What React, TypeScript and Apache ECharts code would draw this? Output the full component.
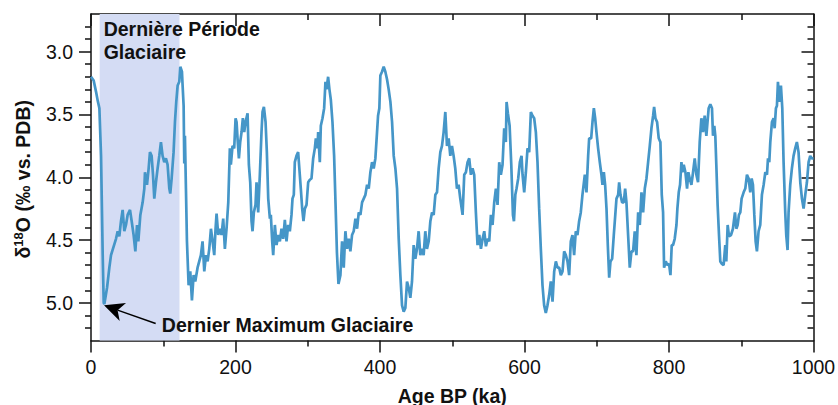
import React, { useEffect, useRef } from "react";
import * as echarts from "echarts";

// Age (ka BP) and benthic δ18O (‰ vs. PDB)
const ageKa = [
  0, 3.7, 7, 9.3, 11.6, 13.9, 16.2, 17.6, 18.5, 22.2, 25.4, 27.7, 31.4, 34.6, 36.9, 39.2, 41.5, 43.8, 46.1, 48.4,
  50.7, 54, 56.3, 59, 61.4, 63.7, 65.5, 68.3, 71.5, 73.8, 74.7, 77.5, 79.8, 81.6, 83.9, 85.8, 87.6, 89.9, 92.2, 94.5,
  96.8, 99.1, 101.4, 103.7, 106, 108.4, 109.7, 111.6, 114.3, 116.2, 118, 119.9, 122.2, 123.6, 125.9, 126.8, 128.2, 129.1, 130, 131.4,
  132.8, 135.1, 137.4, 139.7, 142, 144.3, 147.5, 149.8, 152.1, 154.4, 156.8, 159.1, 161.4, 163.7, 166, 168.3, 170.6, 172.4, 173.8, 176.1,
  178.4, 180.7, 183, 185.3, 187.6, 190, 192.2, 193.6, 195.9, 198.2, 200.1, 201.5, 202.8, 204.7, 206.5, 208.4, 210.2, 212.1, 213.9, 216.7,
  218.5, 220.4, 222.2, 223.6, 225.4, 227.7, 229.1, 231.4, 233.7, 236, 237.4, 239.3, 241.6, 243.4, 245.3, 247.6, 248.9, 250.8, 252.2, 254.5,
  256.8, 259.1, 261.4, 263.7, 266, 268.3, 270.6, 272.9, 275.2, 277.5, 278.9, 280.7, 282.1, 284.4, 286.7, 289, 290.4, 292.3, 294.1, 296,
  298.3, 300.6, 302.9, 305.2, 307.5, 309.8, 311.2, 313.5, 314.4, 316.7, 318.1, 320.4, 322.7, 324.5, 325.9, 328.2, 330, 331.9, 334.2, 336.5,
  338.4, 340.4, 342.5, 345.2, 347.5, 349.8, 352.1, 354.4, 356.7, 359, 361.3, 363.6, 366, 368.3, 370.6, 372.9, 375.2, 377.5, 379.8, 382.1,
  384.4, 386.7, 389, 391.3, 393.6, 395.9, 397.3, 399.1, 400.5, 402.8, 405.1, 407.4, 409.7, 412, 414.4, 416.7, 419, 421.3, 423.6, 425.9,
  428.2, 430.5, 432.8, 435.1, 437.4, 439.7, 442, 444.3, 446.6, 448.9, 451.2, 453.5, 455.8, 458.1, 460.4, 462.7, 465, 467.4, 469.7, 472,
  474.3, 476.6, 478.9, 481.2, 483.5, 485.8, 488.1, 490.4, 492.7, 495, 497.3, 499.6, 501.9, 504.2, 506.5, 508.8, 511.1, 514.3, 516.6, 518.9,
  521.2, 523.5, 525.8, 528.1, 530.4, 532.7, 535, 537.4, 539.7, 542, 544.3, 546.6, 548.9, 551.2, 553.5, 555.8, 558.1, 560.4, 562.7, 565,
  567.3, 569.6, 571.9, 574.2, 575.2, 577, 579.4, 581.7, 584, 585.4, 587.3, 589, 591.3, 593.6, 595.9, 597.3, 599.6, 601.9, 604.2, 606.5,
  608.8, 611.1, 613.4, 615.7, 618, 620.3, 622.6, 624.9, 627.2, 629.5, 631.8, 634.1, 636.4, 638.8, 641.1, 643.4, 645.7, 648, 650.3, 652.6,
  654.9, 657.2, 659.5, 661.8, 664.1, 666.4, 668.7, 671, 673.3, 675.6, 677.9, 680.2, 683.5, 685.8, 688.1, 689.5, 692.3, 694.1, 696, 697.8,
  699.6, 701.9, 704.2, 706.5, 707.9, 709.8, 711.6, 713.5, 715.3, 717.2, 719, 721.3, 723.6, 725.9, 727.3, 729.6, 731, 732.8, 735.1, 737.4,
  739.3, 741.1, 743.4, 745.7, 748, 750.3, 752.6, 754.9, 757.3, 759.6, 761.9, 764.2, 766.5, 768.8, 771.1, 773.4, 775.7, 778, 779.4, 781.2,
  783.5, 785.8, 788.1, 790, 791.8, 793.2, 795.5, 797.8, 800.1, 802, 803.8, 805.6, 807.9, 810.3, 811.6, 813.5, 815.3, 817.2, 818.5, 820.4,
  822.7, 825, 826.8, 828.7, 831, 833.3, 835.6, 837.9, 840.2, 842.5, 844.8, 847.1, 849.4, 851.7, 854.9, 857.2, 859.5, 860.9, 862.7, 864.1,
  865.5, 867.3, 869.2, 871, 873.3, 875.6, 877.9, 879.3, 881.2, 883, 885.8, 888.5, 891.3, 893.2, 895, 896.8, 898.7, 900.5, 903.3, 905.6,
  907.9, 910.2, 912.5, 914.4, 916.2, 918.1, 919.9, 921.7, 924, 926.3, 928.6, 931, 933.3, 935.6, 937, 938.8, 940.2, 942.5, 944.8, 946.2,
  948, 949.4, 950.8, 952.6, 954.9, 956.8, 958.6, 960.9, 962.3, 964.1, 965.5, 967.8, 970.1, 972.4, 974.7, 977, 979.3, 981.7, 984, 986.3,
  988.6, 990.9, 993.2, 995.5, 997.8, 1000,
];

const d18O = [
  3.2, 3.23, 3.32, 3.39, 3.45, 3.83, 4.62, 5.0, 5.01, 4.88, 4.72, 4.62, 4.55, 4.49, 4.43, 4.47, 4.35, 4.26, 4.43, 4.38,
  4.3, 4.26, 4.35, 4.46, 4.59, 4.38, 4.51, 4.3, 4.2, 4.09, 3.96, 4.06, 3.93, 3.8, 3.83, 3.98, 4.17, 4.04, 3.93, 3.83,
  3.72, 3.83, 3.88, 3.85, 3.9, 4.09, 4.13, 4.01, 3.8, 3.56, 3.4, 3.27, 3.24, 3.12, 3.16, 3.27, 3.43, 3.89, 3.67, 4.09,
  4.51, 4.86, 4.75, 4.98, 4.78, 4.83, 4.72, 4.67, 4.62, 4.51, 4.75, 4.62, 4.67, 4.57, 4.41, 4.51, 4.62, 4.41, 4.29, 4.46,
  4.41, 4.46, 4.33, 4.57, 4.41, 4.2, 3.77, 3.9, 3.75, 3.77, 3.53, 3.56, 3.69, 3.85, 3.72, 3.64, 3.53, 3.64, 3.56, 3.49,
  3.9, 4.04, 4.35, 4.43, 4.28, 4.22, 4.04, 4.28, 3.98, 3.64, 3.48, 3.44, 3.56, 3.8, 4.17, 4.33, 4.3, 4.51, 4.62, 4.38,
  4.54, 4.46, 4.51, 4.41, 4.49, 4.34, 4.51, 4.38, 4.43, 4.3, 4.17, 4.14, 3.88, 3.83, 3.8, 3.98, 4.09, 4.25, 4.35, 4.25,
  4.22, 4.04, 4.02, 4.01, 3.85, 3.77, 3.69, 3.77, 3.64, 3.88, 3.59, 3.53, 3.45, 3.24, 3.3, 3.2, 3.3, 3.38, 3.56, 3.83,
  4.2, 4.6, 4.85, 4.78, 4.51, 4.72, 4.43, 4.57, 4.49, 4.59, 4.46, 4.43, 4.33, 4.41, 4.28, 4.3, 4.2, 4.17, 4.14, 4.06,
  4.09, 3.96, 3.88, 3.93, 3.85, 3.64, 3.51, 3.45, 3.19, 3.16, 3.12, 3.16, 3.22, 3.3, 3.4, 3.56, 3.83, 3.93, 4.09, 4.49,
  4.78, 5.02, 5.07, 5.04, 4.83, 4.88, 4.96, 4.83, 4.54, 4.65, 4.57, 4.43, 4.62, 4.57, 4.62, 4.43, 4.57, 4.51, 4.35, 4.28,
  4.3, 4.14, 4.12, 3.93, 3.8, 3.75, 3.64, 3.48, 3.75, 3.69, 3.83, 3.75, 3.83, 3.93, 4.09, 4.06, 4.17, 4.3, 3.98, 3.96,
  3.88, 3.85, 3.98, 3.93, 3.98, 4.28, 4.54, 4.46, 4.57, 4.49, 4.43, 4.55, 4.49, 4.51, 4.3, 4.38, 4.2, 4.09, 4.22, 3.88,
  3.98, 3.9, 3.61, 3.72, 3.4, 3.49, 3.59, 3.9, 4.3, 4.35, 4.14, 4.09, 4.01, 3.88, 3.83, 3.98, 4.12, 3.96, 3.77, 3.8,
  3.48, 3.51, 3.53, 3.64, 3.88, 4.25, 4.57, 4.86, 5.02, 5.08, 5.02, 4.94, 4.83, 4.99, 4.75, 4.67, 4.72, 4.72, 4.78, 4.75,
  4.59, 4.62, 4.67, 4.78, 4.51, 4.46, 4.62, 4.43, 4.46, 4.35, 4.28, 4.14, 3.98, 4.12, 3.83, 3.69, 3.69, 3.56, 3.45, 3.53,
  3.64, 3.77, 3.88, 3.98, 4.06, 3.96, 4.06, 4.25, 4.54, 4.8, 4.67, 4.65, 4.46, 4.28, 4.17, 4.14, 4.04, 4.14, 4.2, 4.2,
  4.09, 4.2, 4.46, 4.72, 4.59, 4.59, 4.43, 4.62, 4.28, 4.38, 4.12, 4.28, 4.09, 4.01, 3.88, 3.75, 3.61, 3.51, 3.44, 3.53,
  3.56, 3.69, 3.72, 4.14, 4.28, 4.72, 4.67, 4.7, 4.69, 4.78, 4.54, 4.54, 4.49, 4.38, 4.25, 4.12, 4.06, 3.88, 3.96, 3.9,
  3.96, 4.09, 3.96, 4.01, 4.06, 3.96, 3.85, 3.98, 4.04, 3.72, 3.53, 3.64, 3.51, 3.67, 3.45, 3.42, 3.45, 3.67, 3.59, 3.67,
  3.9, 4.22, 4.46, 4.67, 4.69, 4.7, 4.54, 4.67, 4.38, 4.47, 4.46, 4.41, 4.28, 4.41, 4.38, 4.3, 4.28, 4.17, 4.12, 4.09,
  3.98, 4.01, 4.12, 4.01, 4.06, 4.3, 4.51, 4.59, 4.43, 4.38, 4.14, 4.06, 3.96, 3.98, 3.85, 3.88, 3.72, 3.56, 3.53, 3.61,
  3.45, 3.43, 3.24, 3.4, 3.27, 3.45, 3.88, 4.28, 4.46, 4.58, 4.28, 4.06, 3.93, 3.83, 3.77, 3.72, 3.8, 4.04, 4.17, 4.25,
  4.14, 4.04, 3.88, 3.83, 3.85, 3.85,
];

// Axis ticks / labels
const xTickLabels = [0, 200, 400, 600, 800, 1000];
const yTickLabels = [3.0, 3.5, 4.0, 4.5, 5.0];
const yMinorTicks = [2.8, 2.9, 3.1, 3.2, 3.3, 3.4, 3.6, 3.7, 3.8, 3.9, 4.1, 4.2, 4.3, 4.4, 4.6, 4.7, 4.8, 4.9, 5.1, 5.2];

// Shaded last glacial period (ka)
const glacialPeriod = [12, 122.5];
const glacialLabel = "Dernière Période\nGlaciaire";
// Last Glacial Maximum annotation (data coordinates)
const lgmLabel = "Dernier Maximum Glaciaire";
const lgmTip = [18, 5.02];
const lgmTail = [89.5, 5.165];
const lgmTextAnchor = [98, 5.175];

const FONT = "'Liberation Sans', Arial, Helvetica, sans-serif";
const INK = "#111111";
const FS = 19.5;

export default function App() {
  const ref = useRef<HTMLDivElement>(null);

  useEffect(() => {
    if (!ref.current) return;
    const chart = echarts.init(ref.current, undefined, { renderer: "svg" });
    const axisLine = { show: true, lineStyle: { color: INK, width: 1.5 } };
    const tickStyle = { color: INK, width: 1.5 };

    const yBase = { type: "value" as const, min: 2.7, max: 5.3, inverse: true, splitLine: { show: false } };

    chart.setOption({
      animation: false,
      backgroundColor: "#ffffff",
      textStyle: { fontFamily: FONT },
      grid: { left: 91, top: 14, right: 24.5, bottom: 64.5, containLabel: false, outerBoundsMode: "none" },
      xAxis: [
        {
          type: "value",
          position: "bottom",
          min: 0,
          max: 1000,
          interval: 200,
          axisLine,
          axisTick: { show: true, length: 12, lineStyle: tickStyle },
          minorTick: { show: true, splitNumber: 2, length: 6, lineStyle: tickStyle },
          axisLabel: {
            show: true,
            fontSize: FS,
            color: INK,
            margin: 16,
            customValues: xTickLabels,
            formatter: (v: number) => String(v),
          },
          splitLine: { show: false },
          name: "Age BP (ka)",
          nameLocation: "middle",
          nameGap: 45,
          nameTextStyle: { fontSize: FS, fontWeight: "bold", color: INK },
        },
        {
          type: "value",
          position: "top",
          min: 0,
          max: 1000,
          interval: 200,
          axisLine,
          axisTick: { show: true, inside: true, length: 12, lineStyle: tickStyle },
          minorTick: { show: true, splitNumber: 2, length: 6, lineStyle: tickStyle },
          axisLabel: { show: false },
          splitLine: { show: false },
        },
      ],
      yAxis: [
        {
          ...yBase,
          position: "left",
          axisLine,
          axisTick: { show: true, length: 12, lineStyle: tickStyle, customValues: yTickLabels },
          axisLabel: {
            show: true,
            fontSize: FS,
            color: INK,
            margin: 18,
            customValues: yTickLabels,
            formatter: (v: number) => v.toFixed(1),
          },
        },
        {
          ...yBase,
          position: "left",
          axisLine: { show: false },
          axisTick: { show: true, length: 6, lineStyle: tickStyle, customValues: yMinorTicks },
          axisLabel: { show: false },
        },
        {
          ...yBase,
          position: "right",
          axisLine,
          axisTick: { show: true, inside: true, length: 12, lineStyle: tickStyle, customValues: yTickLabels },
          axisLabel: { show: false },
        },
        {
          ...yBase,
          position: "right",
          axisLine: { show: false },
          axisTick: { show: true, inside: true, length: 6, lineStyle: tickStyle, customValues: yMinorTicks },
          axisLabel: { show: false },
        },
      ],
      series: [
        {
          type: "line",
          xAxisIndex: 0,
          yAxisIndex: 0,
          data: ageKa.map((a, i) => [a, d18O[i]]),
          showSymbol: false,
          symbol: "none",
          lineStyle: { color: "#4596c8", width: 2.7 },
          z: 5,
          markArea: {
            silent: true,
            itemStyle: { color: "#d4dcf4" },
            label: {
              show: true,
              position: "insideTopLeft",
              distance: 4,
              formatter: glacialLabel,
              fontSize: FS,
              fontWeight: "bold",
              color: INK,
              lineHeight: 22.5,
              fontFamily: FONT,
            },
            data: [[{ xAxis: glacialPeriod[0] }, { xAxis: glacialPeriod[1] }]],
          },
        },
      ],
    });

    const finder = { xAxisIndex: 0, yAxisIndex: 0 };
    const tip = chart.convertToPixel(finder, lgmTip) as number[];
    const tail = chart.convertToPixel(finder, lgmTail) as number[];
    const txt = chart.convertToPixel(finder, lgmTextAnchor) as number[];
    const dx = tip[0] - tail[0];
    const dy = tip[1] - tail[1];
    const len = Math.hypot(dx, dy);
    const ux = dx / len;
    const uy = dy / len;
    const headLen = 20;
    const headHalf = 9.5;
    const bx = tip[0] - ux * headLen;
    const by = tip[1] - uy * headLen;
    const nx = tip[0] - ux * headLen * 0.72;
    const ny = tip[1] - uy * headLen * 0.72;
    const px = -uy;
    const py = ux;

    // y-axis title, centred on the plot's vertical middle
    const yTop = chart.convertToPixel({ yAxisIndex: 0 }, 2.7) as number;
    const yBot = chart.convertToPixel({ yAxisIndex: 0 }, 5.3) as number;
    const yMid = (yTop + yBot) / 2;

    chart.setOption({
      graphic: [
        {
          type: "line",
          shape: { x1: tail[0], y1: tail[1], x2: nx, y2: ny },
          style: { stroke: "#000", lineWidth: 1.5 },
          z: 10,
        },
        {
          type: "polygon",
          shape: {
            points: [
              [tip[0], tip[1]],
              [bx + px * headHalf, by + py * headHalf],
              [nx, ny],
              [bx - px * headHalf, by - py * headHalf],
            ],
          },
          style: { fill: "#000" },
          z: 10,
        },
        {
          type: "text",
          x: txt[0],
          y: txt[1],
          style: {
            text: lgmLabel,
            fontSize: FS,
            fontWeight: "bold",
            fontFamily: FONT,
            fill: INK,
            textAlign: "left",
            textVerticalAlign: "middle",
          },
          z: 10,
        },
        {
          type: "text",
          x: 23,
          y: yMid + 2,
          rotation: Math.PI / 2,
          style: {
            text: "{d|δ}{s|18}{d|O (‰ vs. PDB)}",
            textAlign: "center",
            textVerticalAlign: "middle",
            fill: INK,
            rich: {
              d: { fontSize: FS, fontWeight: "bold", fill: INK, lineHeight: 22, fontFamily: FONT },
              s: { fontSize: 13, fontWeight: "bold", fill: INK, lineHeight: 13, verticalAlign: "top", fontFamily: FONT },
            },
          },
          z: 10,
        },
      ],
    });

    return () => chart.dispose();
  }, []);

  return (
    <div
      ref={ref}
      style={{ position: "fixed", left: 0, top: 0, width: 838, height: 405, background: "#fff" }}
    />
  );
}
